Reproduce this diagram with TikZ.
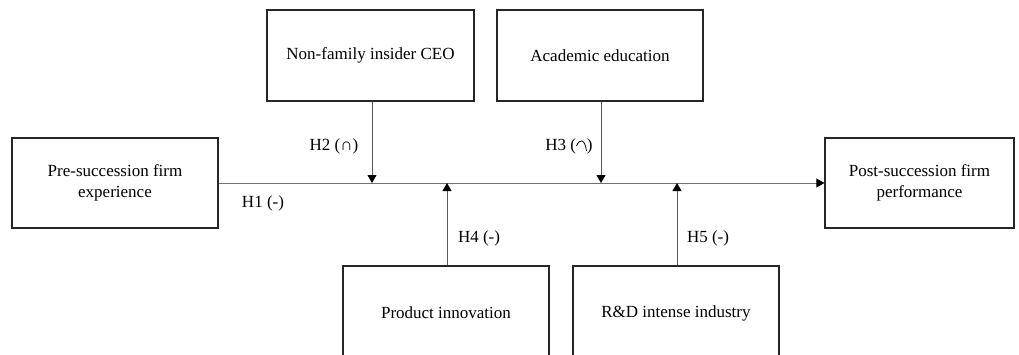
\documentclass[tikz,border=0pt]{standalone}
\usepackage{fontspec}
\setmainfont{Liberation Serif}
\usetikzlibrary{arrows.meta}
\begin{document}
\begin{tikzpicture}[x=1pt,y=-1pt,
  box/.style={draw=black!85,line width=1.2pt,align=center,inner sep=0pt,font=\fontsize{17}{21}\selectfont},
  lbl/.style={font=\fontsize{17}{20}\selectfont,inner sep=0pt},
  arr/.style={draw=black!65,line width=0.8pt,-{Triangle[length=8pt,width=9pt,color=black]}},
  ln/.style={draw=black!55,line width=0.9pt}]
\useasboundingbox (0,0) rectangle (1019,354);
\clip (0,0) rectangle (1019,354);
\fill[white] (0,0) rectangle (1019,354);
\node[box,minimum width=206pt,minimum height=90pt] (pre) at (115,183) {Pre-succession firm\\experience};
\node[box,minimum width=189pt,minimum height=90pt] (post) at (919.5,183) {Post-succession firm\\performance};
\node[box,minimum width=207pt,minimum height=91pt] (nf) at (370.5,55.5) {Non-family insider CEO};
\node[box,minimum width=206pt,minimum height=91pt] (ac) at (600,55.5) {Academic education};
\node[box,minimum width=206pt,minimum height=94pt] (pi) at (446,313) {Product innovation};
\node[box,minimum width=206pt,minimum height=94pt] (rd) at (676,313) {R\&D intense industry};
\draw[arr,draw=black!55] (pre.east) -- (post.west);
\coordinate (m) at (0,183);
\draw[arr] ([xshift=1.5pt]nf.south) -- ([xshift=1.5pt]nf.south |- m);
\draw[arr] ([xshift=1pt]ac.south) -- ([xshift=1pt]ac.south |- m);
\draw[arr] ([xshift=1pt]pi.north) -- ([xshift=1pt]pi.north |- m);
\draw[arr] ([xshift=1pt]rd.north) -- ([xshift=1pt]rd.north |- m);
\node[lbl] (h1) at (263,203) {H1 (-)};
\node[lbl] (h2) at (334,146) {H2 (∩)};
\node[lbl] (h3) at (569,146) {H3 (\tikz[baseline=0pt,x=1pt,y=1pt]\draw[line width=0.8pt] (0,5) .. controls (3,12) and (8,13) .. (10,0);)};
\node[lbl] (h4) at (479,238) {H4 (-)};
\node[lbl] (h5) at (708,238) {H5 (-)};
\end{tikzpicture}
\end{document}
